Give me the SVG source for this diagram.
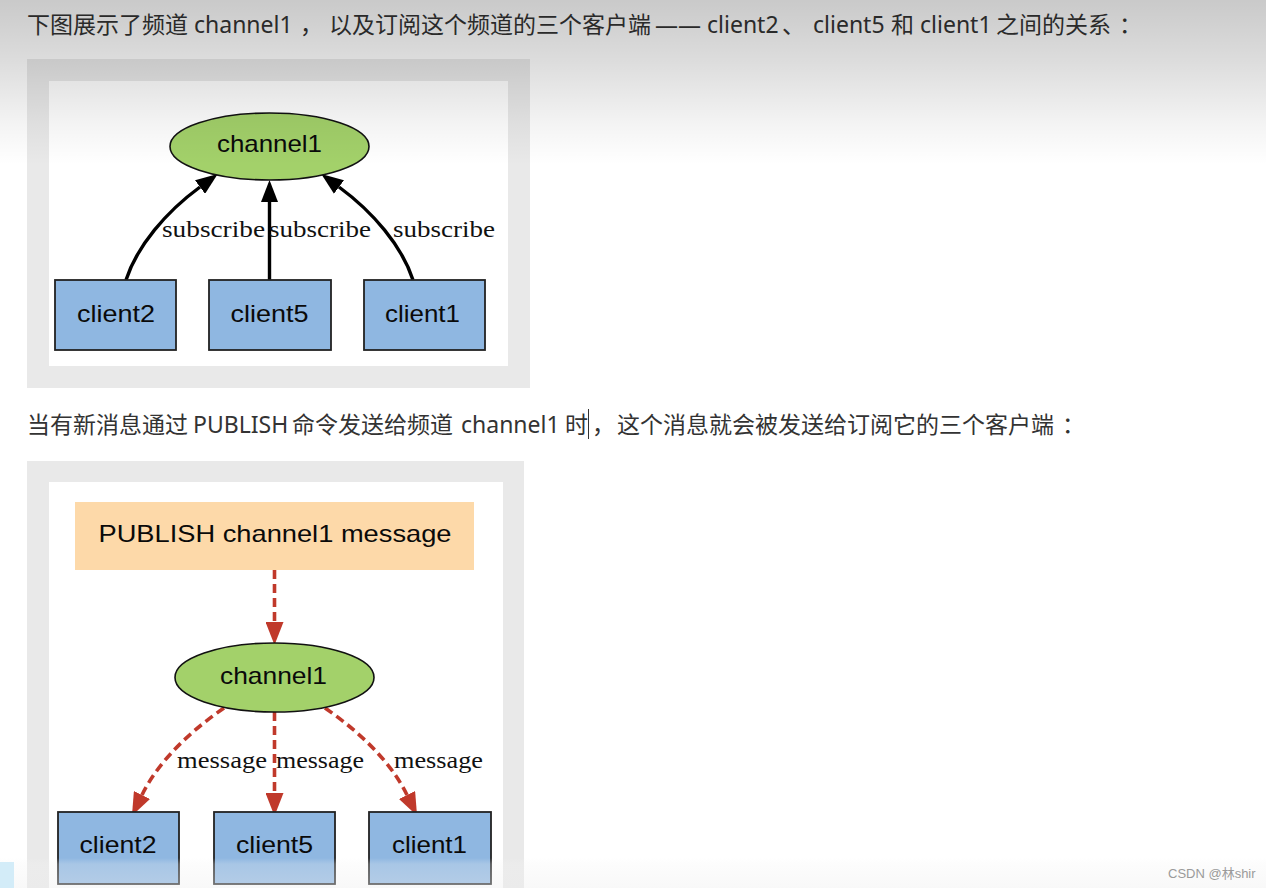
<svg xmlns="http://www.w3.org/2000/svg" width="1266" height="888" viewBox="0 0 1266 888">
<defs>
  <style>
    .para { font-family: "Noto Sans", "Noto Sans CJK SC", sans-serif; font-size: 23px; fill: #333333; }
    .frame { fill: #e9e9e9; }
    .inner { fill: #ffffff; }
    .chan { fill: #a3d16a; stroke: #111111; stroke-width: 1.6; }
    .client { fill: #8fb7e1; stroke: #222222; stroke-width: 1.8; }
    .pub { fill: #fdd9a9; }
    .nlabel { font-family: "Liberation Sans", Arial, sans-serif; font-size: 24px; fill: #0a0a0a; text-anchor: middle; }
    .elabel { font-family: "Liberation Serif", "Times New Roman", serif; font-size: 24px; fill: #111111; }
    .sub { fill: none; stroke: #000000; stroke-width: 3.4; }
    .msg { fill: none; stroke: #c0392b; stroke-width: 3.6; stroke-dasharray: 9 5; }
    .wm { font-family: "Liberation Sans", "Noto Sans CJK SC", sans-serif; font-size: 13px; fill: #9a9a9a; }
  </style>
  <marker id="ahBlack" markerWidth="22" markerHeight="17" refX="0" refY="8.5" orient="auto" markerUnits="userSpaceOnUse">
    <path d="M0,0 L22,8.5 L0,17 Z" fill="#000000"/>
  </marker>
  <marker id="ahRed" markerWidth="23" markerHeight="18" refX="0" refY="9" orient="auto" markerUnits="userSpaceOnUse">
    <path d="M0,0 L23,9 L0,18 Z" fill="#c0392b"/>
  </marker>
  <linearGradient id="topShade" gradientUnits="userSpaceOnUse" x1="0" y1="0" x2="0" y2="165">
    <stop offset="0" stop-color="#000" stop-opacity="0.21"/>
    <stop offset="0.375" stop-color="#000" stop-opacity="0.135"/>
    <stop offset="0.75" stop-color="#000" stop-opacity="0.045"/>
    <stop offset="1" stop-color="#000" stop-opacity="0"/>
  </linearGradient>
  <linearGradient id="botShade" gradientUnits="userSpaceOnUse" x1="0" y1="858" x2="0" y2="888">
    <stop offset="0" stop-color="#f4f4f4" stop-opacity="0"/>
    <stop offset="0.2" stop-color="#f4f4f4" stop-opacity="0.25"/>
    <stop offset="1" stop-color="#eeeeee" stop-opacity="0.4"/>
  </linearGradient>
</defs>

<rect x="0" y="0" width="1266" height="888" fill="#ffffff"/>

<!-- paragraph 1 -->
<text class="para" y="33">
  <tspan x="27">下图展示了频道</tspan>
  <tspan x="194">channel1</tspan>
  <tspan x="300">，</tspan>
  <tspan x="329">以及订阅这个频道的三个客户端</tspan>
  <tspan x="655">——</tspan>
  <tspan x="707">client2</tspan>
  <tspan x="782">、</tspan>
  <tspan x="813">client5</tspan>
  <tspan x="891">和</tspan>
  <tspan x="920">client1</tspan>
  <tspan x="996">之间的关系</tspan>
  <tspan x="1119">：</tspan>
</text>

<!-- diagram 1 -->
<rect class="frame" x="27" y="59" width="503" height="329"/>
<rect class="inner" x="49" y="81" width="459" height="285"/>

<g id="d1-connectors">
  <path class="sub" d="M126,280 C137,246 166,212 200,187" marker-end="url(#ahBlack)"/>
  <path class="sub" d="M269.5,280 L269.5,202" marker-end="url(#ahBlack)"/>
  <path class="sub" d="M413,280 C402,246 373,212 339,187" marker-end="url(#ahBlack)"/>
  <text class="elabel" x="162" y="237" textLength="103" lengthAdjust="spacingAndGlyphs">subscribe</text>
  <text class="elabel" x="269" y="237" textLength="102" lengthAdjust="spacingAndGlyphs">subscribe</text>
  <text class="elabel" x="393" y="237" textLength="102" lengthAdjust="spacingAndGlyphs">subscribe</text>
</g>

<g id="d1-channel1">
  <ellipse class="chan" cx="269.5" cy="146.5" rx="99.5" ry="33.5"/>
  <text class="nlabel" x="269.5" y="152" textLength="105" lengthAdjust="spacingAndGlyphs">channel1</text>
</g>
<g id="d1-client2">
  <rect class="client" x="55" y="280" width="121" height="70"/>
  <text class="nlabel" x="116" y="322" textLength="78" lengthAdjust="spacingAndGlyphs">client2</text>
</g>
<g id="d1-client5">
  <rect class="client" x="209" y="280" width="122" height="70"/>
  <text class="nlabel" x="269.5" y="322" textLength="78" lengthAdjust="spacingAndGlyphs">client5</text>
</g>
<g id="d1-client1">
  <rect class="client" x="364" y="280" width="121" height="70"/>
  <text class="nlabel" x="422.5" y="322" textLength="75" lengthAdjust="spacingAndGlyphs">client1</text>
</g>

<!-- paragraph 2 -->
<text class="para" y="433">
  <tspan x="27">当有新消息通过</tspan>
  <tspan x="193">PUBLISH</tspan>
  <tspan x="292">命令发送给频道</tspan>
  <tspan x="461">channel1</tspan>
  <tspan x="565">时</tspan>
  <tspan x="592">，</tspan>
  <tspan x="617">这个消息就会被发送给订阅它的三个客户端</tspan>
  <tspan x="1062">：</tspan>
</text>
<line x1="588.5" y1="409" x2="588.5" y2="439" stroke="#333333" stroke-width="1"/>

<!-- diagram 2 -->
<rect class="frame" x="27" y="461" width="497" height="427"/>
<rect class="inner" x="49" y="482" width="454" height="406"/>

<g id="d2-connectors">
  <path class="msg" d="M274.5,570 L274.5,622" marker-end="url(#ahRed)"/>
  <path class="msg" d="M224,708 C195,728 160,758 142,795" marker-end="url(#ahRed)"/>
  <path class="msg" d="M274.5,712 L274.5,793" marker-end="url(#ahRed)"/>
  <path class="msg" d="M325,708 C354,728 389,758 407,795" marker-end="url(#ahRed)"/>
  <text class="elabel" x="177" y="768" textLength="90" lengthAdjust="spacingAndGlyphs">message</text>
  <text class="elabel" x="276" y="768" textLength="88" lengthAdjust="spacingAndGlyphs">message</text>
  <text class="elabel" x="394" y="768" textLength="89" lengthAdjust="spacingAndGlyphs">message</text>
</g>

<g id="d2-publish">
  <rect class="pub" x="75" y="502" width="399" height="68"/>
  <text class="nlabel" x="275" y="542" textLength="353" lengthAdjust="spacingAndGlyphs">PUBLISH channel1 message</text>
</g>
<g id="d2-channel1">
  <ellipse class="chan" cx="274.5" cy="677.5" rx="99.5" ry="34.5"/>
  <text class="nlabel" x="273.5" y="684" textLength="107" lengthAdjust="spacingAndGlyphs">channel1</text>
</g>
<g id="d2-client2">
  <rect class="client" x="58" y="812" width="121" height="72"/>
  <text class="nlabel" x="118" y="853" textLength="77" lengthAdjust="spacingAndGlyphs">client2</text>
</g>
<g id="d2-client5">
  <rect class="client" x="214" y="812" width="121" height="72"/>
  <text class="nlabel" x="274.5" y="853" textLength="77" lengthAdjust="spacingAndGlyphs">client5</text>
</g>
<g id="d2-client1">
  <rect class="client" x="369" y="812" width="122" height="72"/>
  <text class="nlabel" x="429.5" y="853" textLength="75" lengthAdjust="spacingAndGlyphs">client1</text>
</g>

<!-- screen shading -->
<rect x="0" y="0" width="1266" height="165" fill="url(#topShade)"/>
<rect x="0" y="858" width="1266" height="30" fill="url(#botShade)"/>
<rect x="0" y="862" width="14" height="26" fill="#d3ecf8"/>

<text class="wm" x="1168" y="878">CSDN @林shir</text>
</svg>
